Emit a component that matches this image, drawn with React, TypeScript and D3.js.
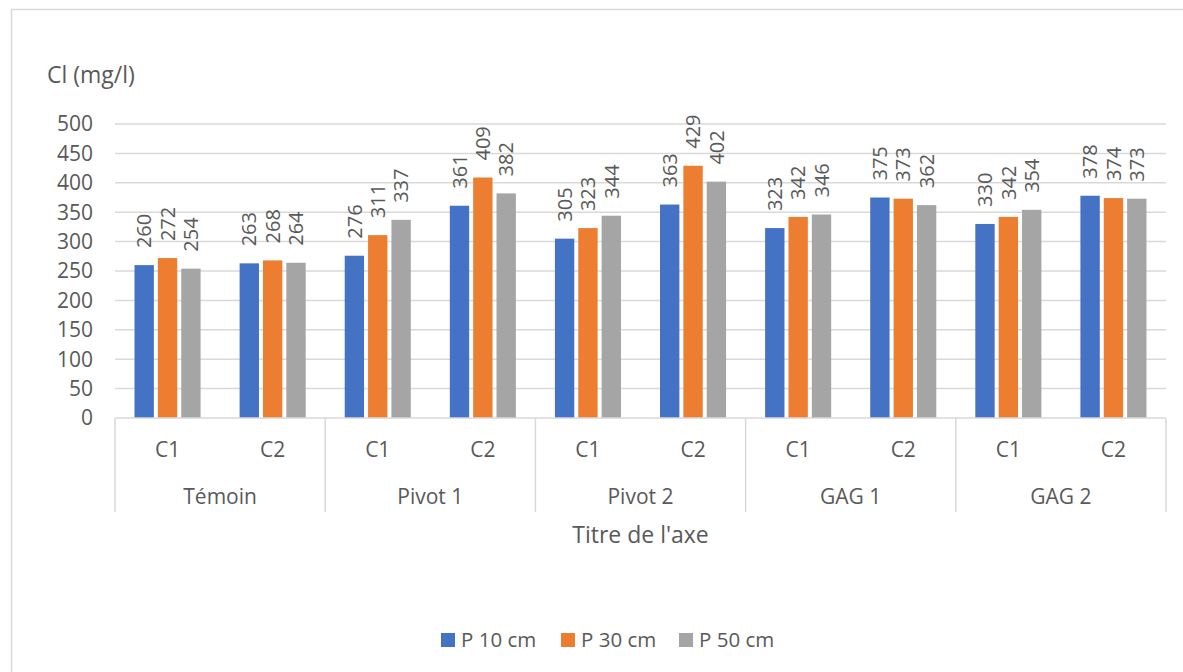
import { useEffect, useRef } from 'react';
import * as d3 from 'd3';

const groups = ['Témoin', 'Pivot 1', 'Pivot 2', 'GAG 1', 'GAG 2'];
const subCats = ['C1', 'C2'];
const seriesNames = ['P 10 cm', 'P 30 cm', 'P 50 cm'];
const seriesColors = ['#4472C4', '#ED7D31', '#A5A5A5'];
// one row per group/sub-category, in order Témoin C1, Témoin C2, Pivot 1 C1 ...
const p10 = [260, 263, 276, 361, 305, 363, 323, 375, 330, 378];
const p30 = [272, 268, 311, 409, 323, 429, 342, 373, 342, 374];
const p50 = [254, 264, 337, 382, 344, 402, 346, 362, 354, 373];
const yTicks = [0, 50, 100, 150, 200, 250, 300, 350, 400, 450, 500];

export default function App() {
  const svgRef = useRef<SVGSVGElement>(null);

  useEffect(() => {
    if (!svgRef.current) return;
    const svg = d3.select(svgRef.current);
    svg.selectAll('*').remove();

    const W = 1183, H = 672;
    const font = "'Open Sans', 'Segoe UI', sans-serif";
    const textColor = '#595959';
    const gridColor = '#D9D9D9';
    const left = 115, right = 1166, top = 124, bottom = 418;

    svg.attr('width', W).attr('height', H).style('font-family', font);

    // chart frame
    svg.append('rect')
      .attr('x', 11.5).attr('y', 9.5)
      .attr('width', W + 20).attr('height', H + 20)
      .attr('fill', '#fff').attr('stroke', gridColor).attr('stroke-width', 1.5);

    const cats: { group: string; sub: string; key: string }[] = [];
    groups.forEach(g => subCats.forEach(s => cats.push({ group: g, sub: s, key: g + '|' + s })));

    const y = d3.scaleLinear().domain([0, 500]).range([bottom, top]);
    const x0 = d3.scaleBand().domain(cats.map(c => c.key)).range([left, right]).paddingInner(1 / 3).paddingOuter(1 / 6);
    const xGroup = d3.scaleBand().domain(groups).range([left, right]);
    const x1 = d3.scaleBand().domain(seriesNames).range([0, x0.bandwidth()]);
    const series = [p10, p30, p50];
    const inset = 2; // white gap between neighbouring bars

    // gridlines
    svg.append('g').selectAll('line').data(yTicks.slice(1)).join('line')
      .attr('x1', left).attr('x2', right)
      .attr('y1', d => y(d)).attr('y2', d => y(d))
      .attr('stroke', gridColor).attr('stroke-width', 1.5);

    // y tick labels
    svg.append('g').selectAll('text').data(yTicks).join('text')
      .attr('x', 93).attr('y', d => y(d)).attr('dy', '0.35em')
      .attr('text-anchor', 'end').attr('fill', textColor).style('font-size', '21px')
      .text(d => d);

    svg.append('text')
      .attr('x', 47).attr('y', 83)
      .attr('fill', textColor).style('font-size', '23px')
      .text('Cl (mg/l)');

    // bars
    const bars = svg.append('g');
    series.forEach((vals, si) => {
      bars.selectAll(null).data(vals).join('rect')
        .attr('x', (_, i) => x0(cats[i].key)! + x1(seriesNames[si])! + inset)
        .attr('y', d => y(d))
        .attr('width', x1.bandwidth() - inset * 2)
        .attr('height', d => y(0) - y(d))
        .attr('fill', seriesColors[si]);
    });

    // data labels
    series.forEach((vals, si) => {
      svg.append('g').selectAll('text').data(vals).join('text')
        .attr('transform', (d, i) => {
          const cx = x0(cats[i].key)! + x1(seriesNames[si])! + x1.bandwidth() / 2;
          return `translate(${cx},${y(d) - 17}) rotate(-90)`;
        })
        .attr('dy', '0.36em')
        .attr('fill', textColor).style('font-size', '20px')
        .text(d => d);
    });

    // x axis baseline
    svg.append('line')
      .attr('x1', left).attr('x2', right).attr('y1', bottom).attr('y2', bottom)
      .attr('stroke', gridColor).attr('stroke-width', 1.5);

    // group separators
    const seps = groups.map(g => xGroup(g)!).concat([right]);
    svg.append('g').selectAll('line').data(seps).join('line')
      .attr('x1', d => d).attr('x2', d => d).attr('y1', bottom).attr('y2', 512)
      .attr('stroke', gridColor).attr('stroke-width', 1.5);

    // sub-category labels
    svg.append('g').selectAll('text').data(cats).join('text')
      .attr('x', d => x0(d.key)! + x0.bandwidth() / 2).attr('y', 457)
      .attr('text-anchor', 'middle').attr('fill', textColor).style('font-size', '21px')
      .text(d => d.sub);

    // group labels
    svg.append('g').selectAll('text').data(groups).join('text')
      .attr('x', d => xGroup(d)! + xGroup.bandwidth() / 2).attr('y', 504)
      .attr('text-anchor', 'middle').attr('fill', textColor).style('font-size', '21px')
      .text(d => d);

    svg.append('text')
      .attr('x', (left + right) / 2).attr('y', 543)
      .attr('text-anchor', 'middle').attr('fill', textColor).style('font-size', '23px')
      .text("Titre de l'axe");

    // legend
    const legendX = [441, 561, 679];
    const lg = svg.append('g');
    seriesNames.forEach((name, i) => {
      lg.append('rect').attr('x', legendX[i]).attr('y', 633).attr('width', 14).attr('height', 14)
        .attr('fill', seriesColors[i]);
      lg.append('text').attr('x', legendX[i] + 20).attr('y', 647)
        .attr('fill', textColor).style('font-size', '20.5px').text(name);
    });
  }, []);

  return <svg ref={svgRef} style={{ position: 'absolute', left: 0, top: 0 }}></svg>;
}
